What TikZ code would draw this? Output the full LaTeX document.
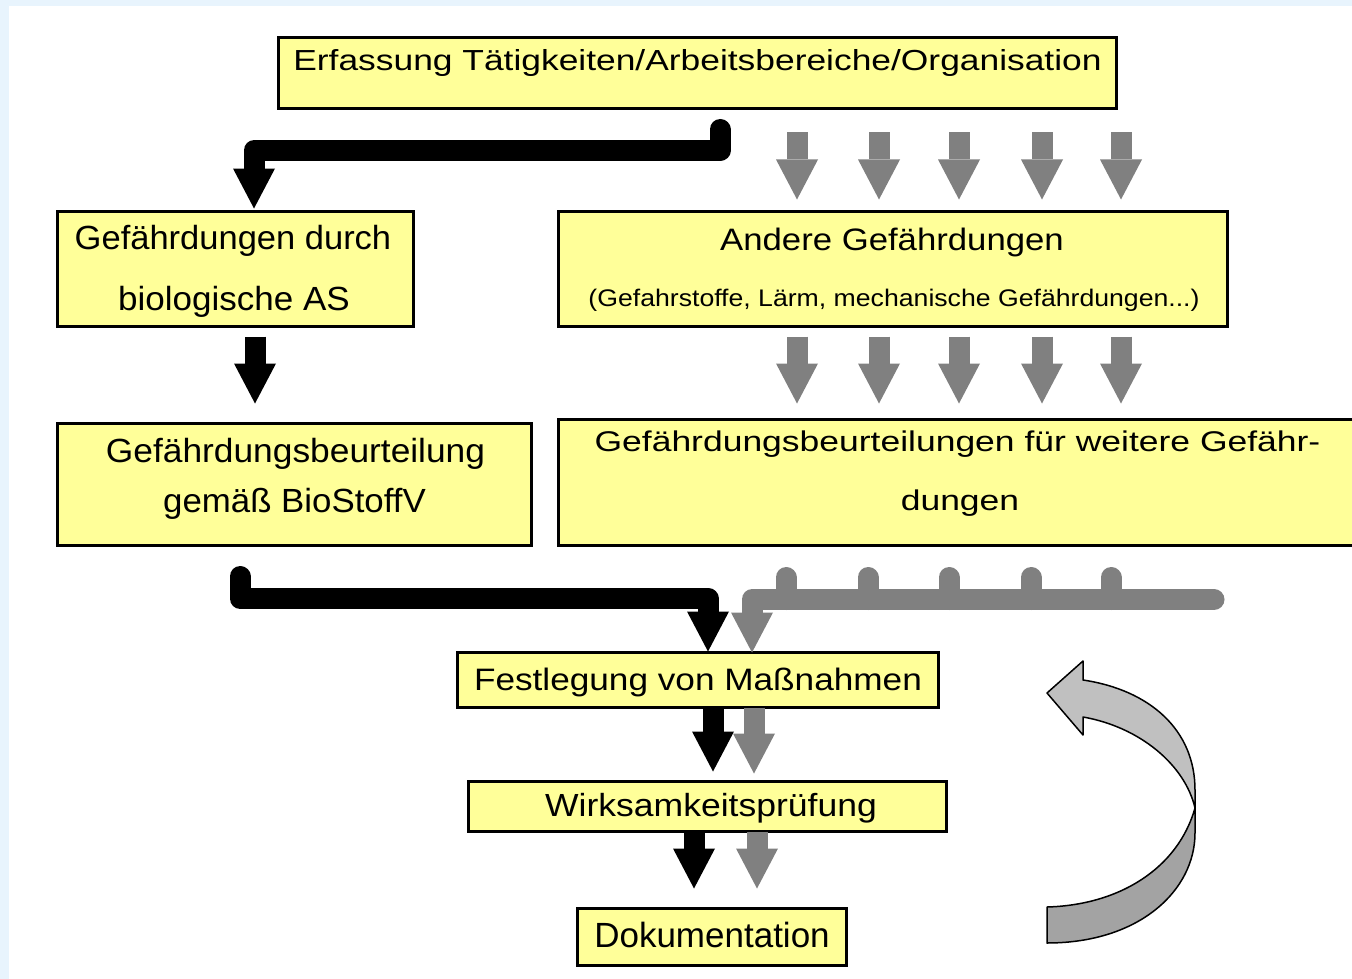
\documentclass[tikz,border=0pt]{standalone}
\usepackage{fontspec}
\setmainfont{Liberation Sans}
\usepackage{graphicx}
\usetikzlibrary{arrows.meta,calc}
\definecolor{boxyellow}{HTML}{FFFF99}
\definecolor{bgblue}{HTML}{E8F4FD}
\definecolor{arrowgray}{HTML}{808080}
\definecolor{ribbonlight}{HTML}{C0C0C0}
\definecolor{ribbondark}{HTML}{A3A3A3}
\newcommand{\tx}[3]{{\fontsize{#1}{#1}\selectfont\scalebox{#2}[1]{#3}}}
\tikzset{
  box/.style={draw=black, line width=3pt, fill=boxyellow, inner sep=0pt, outer sep=0pt, rectangle},
  lbl/.style={anchor=base, inner sep=0pt, outer sep=0pt, text=black},
  blockarrow/.style={line width=21pt, line cap=butt, -{Triangle[width=42pt,length=40pt,line width=0pt]}},
  blk/.style={blockarrow, draw=black},
  gry/.style={blockarrow, draw=arrowgray},
  conn/.style={line cap=round, line join=round},
  stub/.style={line width=21pt, line cap=round, draw=arrowgray},
  ribbon/.style={draw=black, line width=1.5pt, line join=round},
}
\begin{document}
\begin{tikzpicture}[x=1pt,y=-1pt]
\useasboundingbox (0,0) rectangle (1352,979);
\clip (0,0) rectangle (1352,979);
\fill[bgblue] (0,0) rectangle (1352,979);
\fill[white] (9,6) rectangle (1352,979);

% boxes
\node[box, minimum width=838pt, minimum height=71pt] (b1) at (697.5,73) {};
\node[box, minimum width=356pt, minimum height=115pt] (b2) at (235.5,269) {};
\node[box, minimum width=669pt, minimum height=115pt] (b3) at (893,269) {};
\node[box, minimum width=474pt, minimum height=122pt] (b4) at (294.5,484.5) {};
\node[box, minimum width=797pt, minimum height=126pt] (b5) at (957,482.5) {};
\node[box, minimum width=481pt, minimum height=55pt] (b6) at (698,680) {};
\node[box, minimum width=478pt, minimum height=50pt] (b7) at (707.5,806.5) {};
\node[box, minimum width=269pt, minimum height=57pt] (b8) at (712,937) {};

% labels
\node[lbl] (t1) at (697.5,71) {\tx{29}{1.22}{Erfassung Tätigkeiten/Arbeitsbereiche/Organisation}};
\node[lbl] (t2a) at (233,249) {\tx{33.5}{1.03}{Gefährdungen durch}};
\node[lbl] (t2b) at (234,310) {\tx{33.5}{1.045}{biologische AS}};
\node[lbl] (t3a) at (892,250) {\tx{31}{1.12}{Andere Gefährdungen}};
\node[lbl] (t3b) at (894,306) {\tx{24}{1.11}{(Gefahrstoffe, Lärm, mechanische Gefährdungen...)}};
\node[lbl] (t4a) at (295.5,462) {\tx{33.5}{1.055}{Gefährdungsbeurteilung}};
\node[lbl] (t4b) at (294.5,512) {\tx{33.5}{1.04}{gemäß BioStoffV}};
\node[lbl] (t5a) at (957.5,451) {\tx{28.5}{1.245}{Gefährdungsbeurteilungen für weitere Gefähr-}};
\node[lbl] (t5b) at (960,510) {\tx{28.5}{1.245}{dungen}};
\node[lbl] (t6) at (698,690) {\tx{31}{1.135}{Festlegung von Maßnahmen}};
\node[lbl] (t7) at (711,816) {\tx{32}{1.11}{Wirksamkeitsprüfung}};
\node[lbl] (t8) at (712,947) {\tx{35}{1.0}{Dokumentation}};

% top black connector b1 -> b2
\draw[blk, conn] ($(b1.south)+(22.5,21)$) -- ++(0,21) -| ($(b2.north)+(18.5,-3)$);
% gray arrows b1 -> b3 and b3 -> b5
\foreach \dx in {-96,-14,66,149,228}{
  \draw[gry] ($(b3.north)+(\dx,-79)$) -- ($(b3.north)+(\dx,-12)$);
  \draw[gry] ($(b3.south)+(\dx,10)$) -- ($(b3.south)+(\dx,77)$);
}
% black b2 -> b4
\draw[blk] ($(b2.south)+(19.5,10)$) -- ($(b2.south)+(19.5,77)$);

% bottom black connector b4 -> b6
\draw[blk, conn] ($(b4.south)+(-54.5,31)$) -- ++(0,22) -| ($(b6.north)+(10,-1)$);
% bottom gray connector b5 -> b6
\foreach \dx in {-171,-89,-8,74,154}{
  \draw[stub] ($(b5.south)+(\dx,32)$) -- ($(b5.south)+(\dx,54)$);
}
\draw[gry, conn] ($(b5.south)+(257,54)$) -| ($(b6.north)+(54,0)$);

% b6 -> b7
\draw[blk] ($(b6.south)+(15,0)$) -- ($(b6.south)+(15,64)$);
\draw[gry] ($(b6.south)+(56,0)$) -- ($(b6.south)+(56,66)$);
% b7 -> b8
\draw[blk] ($(b7.south)+(-13.5,0)$) -- ($(b7.south)+(-13.5,57)$);
\draw[gry] ($(b7.south)+(49.5,0)$) -- ($(b7.south)+(49.5,57)$);

% curved feedback arrow
\filldraw[ribbon, fill=ribbondark] (1047,943) .. controls (1140,943) and (1195,890) .. (1195,833)
  -- (1195,808) .. controls (1178,868) and (1120,905) .. (1047,907) -- cycle;
\filldraw[ribbon, fill=ribbonlight] (1195,808) -- (1195,790) .. controls (1195,730) and (1150,690) .. (1083,680)
  -- (1083,661) -- (1047,693) -- (1083,735) -- (1083,717)
  .. controls (1140,727) and (1185,765) .. (1195,808) -- cycle;
\end{tikzpicture}
\end{document}
